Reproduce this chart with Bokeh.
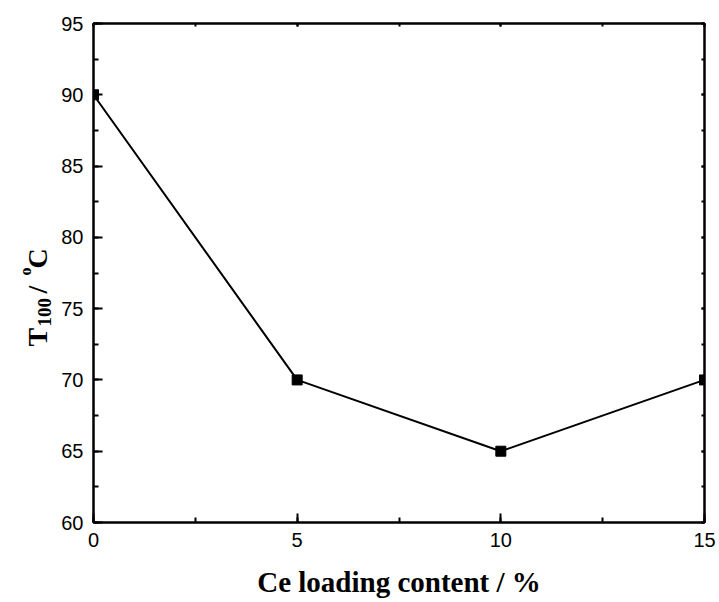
import math
from bokeh.plotting import figure
from bokeh.layouts import row
from bokeh.models import Range1d, LinearAxis, SingleIntervalTicker, CustomJSTickFormatter
from bokeh.core.properties import value
from bokeh.embed import file_html
from bokeh.resources import INLINE

# ---- data ----
ce_loading = [0, 5, 10, 15]
t100 = [90, 70, 65, 70]
x_label = "Ce loading content / %"
y_label_parts = ["T", "100", "/", "o", "C"]

TICK_FONT = "Liberation Sans"
LABEL_FONT = "Liberation Serif"

W, H = 719, 602
SIDE_W = 55                       # strip holding the rotated y-axis title
FL, FR, FT, FB = 93, 704, 23, 522  # frame edges in page pixels

# ---- side strip with the composite y-axis title (same vertical frame as main plot) ----
q = figure(frame_width=SIDE_W, frame_height=FB - FT, output_backend="svg", toolbar_location=None,
           x_range=Range1d(0, SIDE_W), y_range=Range1d(H - FB, H - FT),
           x_axis_type=None, y_axis_type=None,
           min_border_left=0, min_border_right=0,
           min_border_top=FT, min_border_bottom=H - FB)
q.title.visible = False
q.outline_line_color = None
q.background_fill_color = "white"
q.border_fill_color = "white"
q.xgrid.visible = False
q.ygrid.visible = False

# (baseline x, start y from page top, font size) in page pixels
piece_pos = [(37, 346, 28), (44, 326, 19), (37, 293, 28), (25, 275, 16), (37, 268, 28)]
for txt, (bx, by, s) in zip(y_label_parts, piece_pos):
    q.text(x=[bx], y=[H - by], text=[txt], angle=math.pi / 2,
           text_font=value(LABEL_FONT), text_font_style="bold",
           text_font_size=f"{s}px", text_color="black",
           text_align="left", text_baseline="alphabetic")

# ---- main plot ----
p = figure(frame_width=FR - FL, frame_height=FB - FT, output_backend="svg", toolbar_location=None,
           x_range=Range1d(0, 15), y_range=Range1d(60, 95),
           x_axis_type=None, y_axis_type=None,
           min_border_left=FL - SIDE_W, min_border_right=W - FR, min_border_top=FT,
           min_border_bottom=H - FB)
p.title.visible = False
p.background_fill_color = "white"
p.border_fill_color = "white"
p.outline_line_color = "black"
p.outline_line_width = 2
p.xgrid.visible = False
p.ygrid.visible = False

def style_axis(ax, main):
    ax.axis_line_color = "black"
    ax.axis_line_width = 2
    ax.major_tick_line_color = "black"
    ax.minor_tick_line_color = "black"
    ax.major_tick_line_width = 2
    ax.minor_tick_line_width = 2
    ax.major_tick_out = 0
    ax.minor_tick_out = 0
    if main:
        ax.major_tick_in = 9
        ax.minor_tick_in = 5
        ax.major_label_text_font = TICK_FONT
        ax.major_label_text_font_size = "20px"
        ax.major_label_text_color = "black"
        ax.major_label_standoff = 10
    else:
        ax.major_tick_in = 3
        ax.minor_tick_in = 3
        ax.formatter = CustomJSTickFormatter(code="return ''")
        ax.major_label_standoff = 0

xb = LinearAxis(ticker=SingleIntervalTicker(interval=5, num_minor_ticks=2))
style_axis(xb, True)
xb.axis_label = x_label
xb.axis_label_text_font = LABEL_FONT
xb.axis_label_text_font_style = "bold"
xb.axis_label_text_font_size = "29px"
xb.axis_label_text_color = "black"
xb.axis_label_standoff = 16
p.add_layout(xb, "below")

yl = LinearAxis(ticker=SingleIntervalTicker(interval=5, num_minor_ticks=2))
style_axis(yl, True)
p.add_layout(yl, "left")

xt = LinearAxis(ticker=SingleIntervalTicker(interval=5, num_minor_ticks=2))
style_axis(xt, False)
p.add_layout(xt, "above")

yr = LinearAxis(ticker=SingleIntervalTicker(interval=5, num_minor_ticks=2))
style_axis(yr, False)
p.add_layout(yr, "right")

p.line(ce_loading, t100, line_color="black", line_width=2)
p.scatter(ce_loading, t100, marker="square", size=10, fill_color="black", line_color="black")

layout = row(q, p, spacing=0)
open("out.html", "w").write(file_html(layout, INLINE))
